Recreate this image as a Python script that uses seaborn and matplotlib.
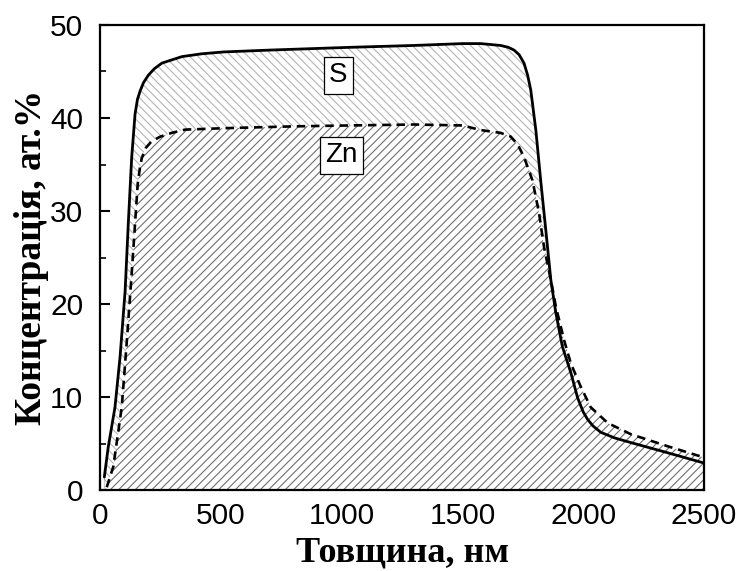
import matplotlib
matplotlib.use("Agg")
import matplotlib.pyplot as plt
from matplotlib.ticker import MultipleLocator
import seaborn as sns
import pandas as pd

# Depth profile of sulfur (S) and zinc (Zn)
s_depth = [18, 18, 34, 62, 83, 104, 117, 131, 145, 155, 166, 180, 200, 225, 256, 339,
           420, 510, 700, 1036, 1300, 1500, 1576, 1658, 1690, 1714, 1735, 1755, 1770,
           1783, 1804, 1824, 1845, 1866, 1887, 1914, 1949, 1977, 2000, 2018, 2040, 2073,
           2130, 2197, 2350, 2500]
s_conc = [0.3, 2.5, 4.6, 8.9, 14.3, 21.4, 28.6, 35.7, 40.4, 42.0, 42.9, 43.8, 44.6,
          45.3, 45.9, 46.6, 46.9, 47.1, 47.3, 47.6, 47.8, 48.0, 48.0, 47.8, 47.6, 47.3,
          46.8, 45.9, 44.6, 43.0, 38.7, 33.3, 28.0, 22.6, 19.0, 15.4, 12.6, 9.9, 8.4,
          7.6, 6.9, 6.2, 5.6, 5.1, 4.0, 2.9]

zn_depth = [28, 55, 90, 111, 131, 145, 156, 165, 173, 190, 214, 250, 297, 352, 510, 800,
            1036, 1300, 1500, 1576, 1658, 1700, 1730, 1755, 1790, 1817, 1838, 1866, 1887,
            1921, 1949, 1990, 2031, 2102, 2197, 2350, 2500]
zn_conc = [0.3, 2.5, 8.9, 16.0, 23.2, 28.6, 32.9, 34.6, 35.7, 36.8, 37.5, 38.0, 38.4,
           38.75, 38.9, 39.1, 39.2, 39.3, 39.2, 38.7, 38.4, 38.0, 37.1, 35.8, 33.3, 29.8,
           26.1, 22.6, 19.7, 16.1, 13.6, 11.1, 8.9, 7.2, 6.0, 4.7, 3.5]

x_ticks = [0, 500, 1000, 1500, 2000, 2500]
y_ticks = [0, 10, 20, 30, 40, 50]

s_df = pd.DataFrame({"depth": s_depth, "conc": s_conc})
zn_df = pd.DataFrame({"depth": zn_depth, "conc": zn_conc})

sns.set_style("ticks")
plt.rcParams["font.family"] = ["Liberation Sans", "DejaVu Sans"]
plt.rcParams["hatch.linewidth"] = 0.8
plt.rcParams["text.color"] = "black"
plt.rcParams["xtick.color"] = "black"
plt.rcParams["ytick.color"] = "black"
plt.rcParams["axes.labelcolor"] = "black"

fig = plt.figure(figsize=(7.54, 5.71), dpi=100)
ax = fig.add_axes([100 / 754, 1 - 490 / 571, 604 / 754, 465 / 571])

# hatched areas under each profile
ax.fill_between(s_df["depth"], 0, s_df["conc"], facecolor="white",
                edgecolor="#b4b4b4", hatch="\\\\\\\\", linewidth=0, zorder=1)
ax.fill_between(zn_df["depth"], 0, zn_df["conc"], facecolor="white",
                edgecolor="#6e6e6e", hatch="////", linewidth=0, zorder=2)

sns.lineplot(data=s_df, x="depth", y="conc", ax=ax, color="black", linewidth=2.0,
             sort=False, zorder=4)
sns.lineplot(data=zn_df, x="depth", y="conc", ax=ax, color="black", linewidth=1.9,
             sort=False, zorder=4, linestyle=(0, (3.2, 2.2)))

box = dict(boxstyle="square,pad=0.2", facecolor="white", edgecolor="black", linewidth=0.9)
ax.text(987, 44.6, "S", fontsize=20, ha="center", va="center", bbox=box, zorder=5)
ax.text(999, 36.0, "Zn", fontsize=20, ha="center", va="center", bbox=box, zorder=5)

ax.set_xlim(0, 2500)
ax.set_ylim(0, 50)
ax.set_xticks(x_ticks)
ax.set_yticks(y_ticks)
ax.xaxis.set_minor_locator(MultipleLocator(250))
ax.yaxis.set_minor_locator(MultipleLocator(5))
ax.tick_params(which="major", direction="in", length=7, width=1.5, labelsize=21.5)
ax.tick_params(axis="x", which="major", pad=9)
ax.tick_params(axis="y", which="major", pad=12)
ax.tick_params(which="minor", direction="in", length=4, width=1.2)
for sp in ax.spines.values():
    sp.set_linewidth(1.6)
    sp.set_color("black")
    sp.set_visible(True)

lab_font = dict(family=["Liberation Serif", "DejaVu Serif"], fontweight="bold")
ax.set_xlabel("Товщина, нм", labelpad=4, fontsize=26, **lab_font)
ax.set_ylabel("Концентрація, ат.%", labelpad=1, fontsize=27, **lab_font)

fig.savefig("out.png", dpi=100)
